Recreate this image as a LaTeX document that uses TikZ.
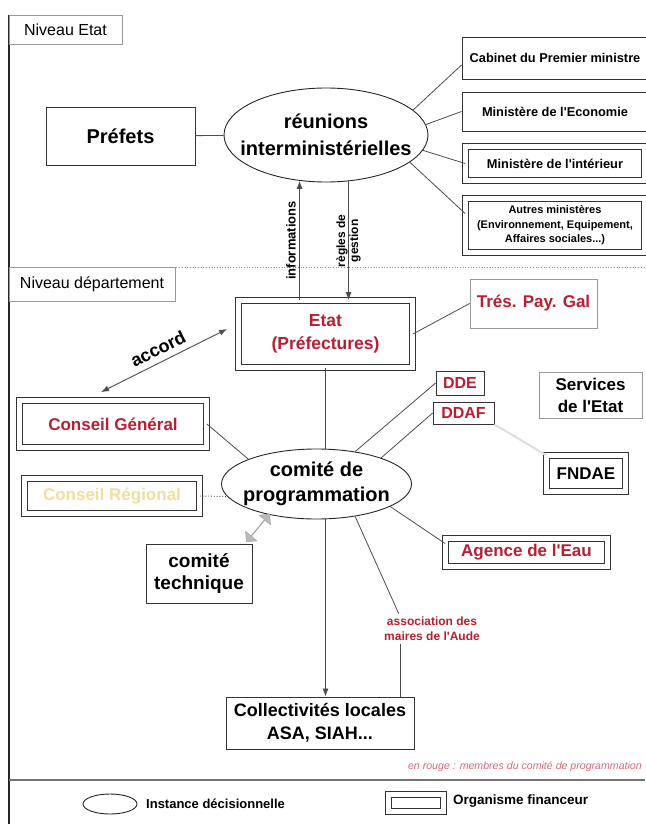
\documentclass[tikz,border=0pt]{standalone}
\usepackage{fontspec}
\setmainfont{Liberation Sans}[Ligatures=TeXOff]
\usetikzlibrary{shapes.geometric,shapes.arrows,arrows.meta}
\definecolor{rouge}{RGB}{185,30,50}
\definecolor{paille}{RGB}{240,222,158}
\definecolor{rose}{RGB}{214,105,120}
\tikzset{
	cadre/.style={draw=black!80,line width=0.9pt,inner sep=1pt,align=center,font=\bfseries},
	cadrefin/.style={cadre,line width=0.8pt,double=white,double distance=5pt},
	cadrel/.style={draw=black!40,line width=0.7pt,inner sep=1pt,align=center},
	oval/.style={ellipse,draw=black!85,line width=0.9pt,inner sep=0pt,align=center,font=\bfseries},
	sz/.style 2 args={font=\fontsize{#1}{#2}\selectfont\bfseries},
	link/.style={draw=black!70,line width=0.8pt},
	fl/.style={link,-{Latex[length=8pt,width=6pt]}}
}
\begin{document}
\begin{tikzpicture}[x=1pt,y=-1pt]
	\useasboundingbox (0,0) rectangle (645,824);

	% niveaux
	\draw[black!85,line width=1.6pt] (9,15) -- (9,824);
	\draw[black!45,dotted,line width=0.7pt] (9,267) -- (645,267);
	\draw[black!55,line width=1.5pt] (9,780) -- (645,780);
	\node[cadrel,minimum width=113pt,minimum height=29pt,font=\fontsize{16}{19}\selectfont] (netat) at (65.5,29.5) {Niveau Etat};
	\node[cadrel,minimum width=166pt,minimum height=34pt,font=\fontsize{16}{19}\selectfont] (ndep) at (92,284) {Niveau département};

	% niveau Etat
	\node[cadre,minimum width=149pt,minimum height=58pt,sz={20}{24}] (prefets) at (120.5,136) {Préfets};
	\node[oval,minimum width=204pt,minimum height=94pt,inner xsep=-15pt,sz={20}{27}] (reunions) at (326,135) {réunions\\interministérielles};
	\node[cadre,minimum width=186pt,minimum height=42pt,sz={12.8}{15}] (cabinet) at (555,58) {Cabinet du Premier ministre};
	\node[cadre,minimum width=186pt,minimum height=39pt,sz={12.8}{15}] (economie) at (555,111.5) {Ministère de l'Economie};
	\node[cadrefin,minimum width=179pt,minimum height=34pt,sz={12.8}{15}] (interieur) at (555,163.5) {Ministère de l'intérieur};
	\node[cadrefin,minimum width=179pt,minimum height=54pt,sz={11}{14.5}] (autres) at (555,225.5) {Autres ministères\\(Environnement, Equipement,\\Affaires sociales...)};

	\draw[link] (prefets) -- (reunions);
	\draw[link] (reunions.16) -- ([yshift=-7pt]cabinet.west);
	\draw[link] (reunions.6) -- (economie.west);
	\draw[link] (reunions.-9) -- (interieur.west);
	\draw[link] (reunions.-18) -- ([yshift=12pt]autres.west);

	% niveau departement
	\node[cadrefin,minimum width=174pt,minimum height=67pt,sz={17.5}{23},text=rouge] (etat) at (325.5,334) {Etat\\(Préfectures)};
	\node[cadrel,minimum width=127pt,minimum height=49pt,sz={17}{20},text=rouge] (tresor) at (533.5,303.5) {Trés. Pay. Gal};
	\node[cadrefin,minimum width=187pt,minimum height=47pt,sz={17}{20},text=rouge] (general) at (113,424) {Conseil Général};
	\node[cadrefin,minimum width=175pt,minimum height=35pt,sz={17}{20},text=paille] (regional) at (112,496) {Conseil Régional};
	\node[oval,minimum width=190pt,minimum height=70pt,inner xsep=-8pt,sz={20}{25}] (comite) at (316.5,484) {comité de\\programmation};
	\node[cadre,line width=0.8pt,inner sep=0pt,minimum width=48pt,minimum height=24pt,sz={16}{18},text=rouge] (dde) at (460,383) {DDE};
	\node[cadre,line width=0.8pt,inner sep=0pt,minimum width=61pt,minimum height=22pt,sz={16}{18},text=rouge] (ddaf) at (463.5,413) {DDAF};
	\node[cadrel,minimum width=103pt,minimum height=46pt,sz={17}{22}] (services) at (590.5,395) {Services\\de l'Etat};
	\node[cadrefin,minimum width=79pt,minimum height=36pt,sz={17}{20}] (fndae) at (586,473.5) {FNDAE};
	\node[cadrefin,minimum width=162pt,minimum height=28pt,sz={17}{20},text=rouge] (agence) at (526.5,552.5) {Agence de l'Eau};
	\node[cadre,minimum width=106pt,minimum height=59pt,sz={19}{22}] (technique) at (199,573.5) {comité\\technique};
	\node[double arrow,fill=gray!55,draw=gray!70,line width=0.5pt,inner sep=0pt,minimum width=15pt,minimum height=36pt,double arrow head extend=6pt,rotate=50] (echange) at (258,528) {};
	\node[align=center,text=rouge,sz={12}{15}] (aude) at (432,629) {association des\\maires de l'Aude};
	\node[cadre,minimum width=188pt,minimum height=52pt,sz={18}{23}] (collectivites) at (320,723) {Collectivités locales\\ASA, SIAH...};

	\draw[fl] (reunions.-120 |- etat.north) -- (reunions.-120) node[midway,rotate=90,anchor=south,sz={13}{15}] (infos) {informations};
	\draw[fl] (reunions.-64) -- (reunions.-64 |- etat.north) node[midway,rotate=90,align=center,sz={12}{13}] (regles) {règles de\\gestion};
	\draw[link,line width=0.9pt,{Latex[length=8pt,width=6pt]}-{Latex[length=8pt,width=6pt]}] ([xshift=-12pt,yshift=8pt]general.north) -- ([xshift=-11pt,yshift=5pt]etat.west) node[midway,sloped,above=3pt,sz={18}{20}] (accord) {accord};
	\draw[link] (etat.east) -- (tresor.west);
	\draw[link] (etat.south) -- (etat.south |- comite.north);
	\draw[fl] (etat.south |- comite.south) -- (etat.south |- collectivites.north);
	\draw[link] (general.east) -- (comite.160);
	\draw[link,dotted,line width=1pt] (regional.east) -- (comite.188);
	\draw[link] (comite.40) -- (dde.west);
	\draw[link] (comite.22) -- (ddaf.west);
	\draw[gray!25,line width=2pt] (ddaf.south east) -- (fndae.north west);
	\draw[link] (comite.-17) -- ([yshift=9pt]agence.west);
	\draw[link] (comite.-40) -- ([xshift=18pt]aude.north west);
	\draw[link] ([xshift=20pt]aude.south west) -- ([xshift=20pt]aude.south west |- collectivites.north);

	% legende
	\node[anchor=east,inner sep=0pt,text=rose,font=\fontsize{10.6}{12}\selectfont\itshape] (note) at (642,767) {en rouge : membres du comité de programmation};
	\node[oval,minimum width=54pt,minimum height=20pt] (legov) at (110,804) {};
	\node[anchor=west,inner sep=0pt,sz={13}{15}] (legovt) at (146,804) {Instance décisionnelle};
	\node[cadrefin,minimum width=55pt,minimum height=17pt] (legfin) at (416,803) {};
	\node[anchor=west,inner sep=0pt,sz={13.5}{16}] (legfint) at (453,801) {Organisme financeur};
\end{tikzpicture}
\end{document}
